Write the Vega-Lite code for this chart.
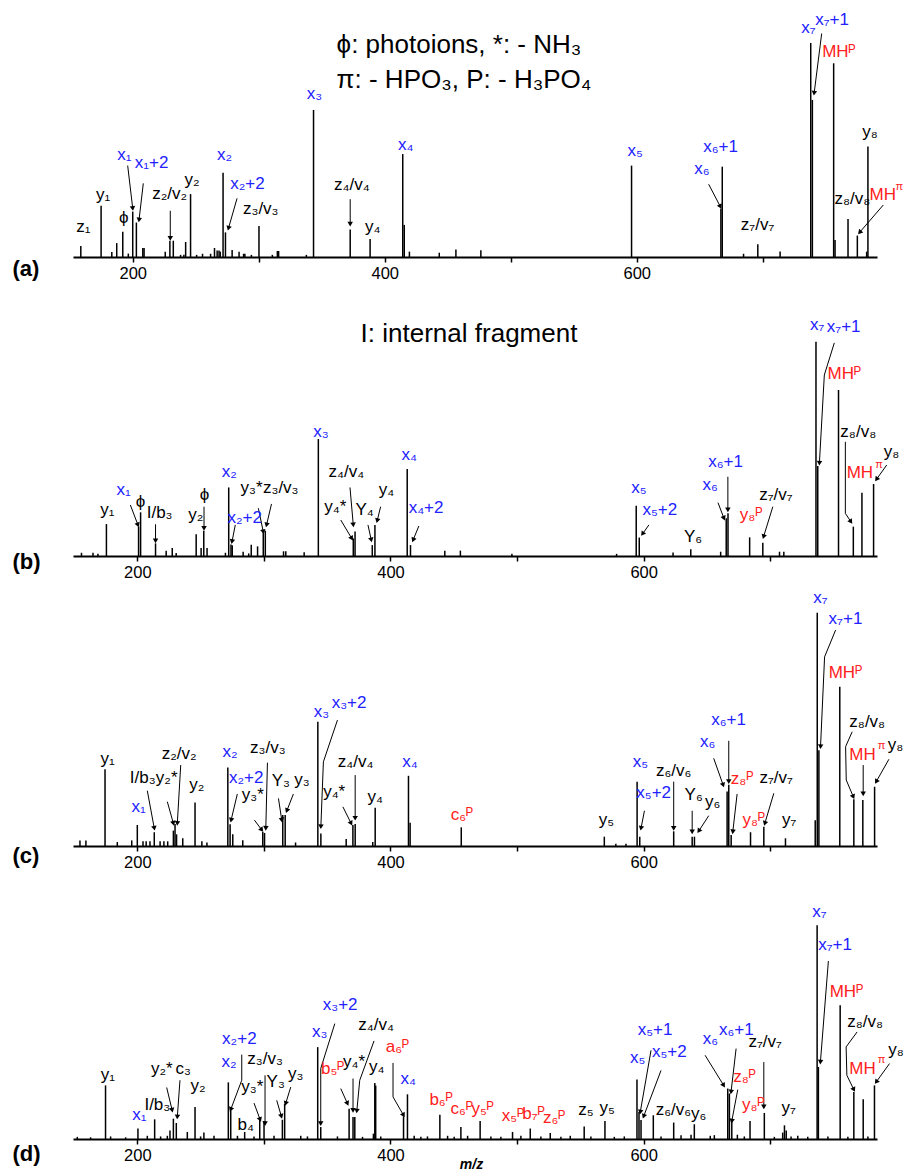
{
  "$schema": "https://vega.github.io/schema/vega-lite/v6.json",
  "background": "white",
  "padding": {"left": 12, "top": 7, "right": 0, "bottom": 0},
  "spacing": 40,
  "bounds": "flush",
  "config": {"view": {"stroke": null}, "font": "Liberation Sans"},
  "datasets": {
    "peaks": [
      {"p":"a","mz":158.8,"int":5.1},{"p":"a","mz":174.9,"int":24},{"p":"a","mz":183.4,"int":2.3},{"p":"a","mz":187.3,"int":6.5},{"p":"a","mz":192.1,"int":11.8},{"p":"a","mz":196.5,"int":1.6},{"p":"a","mz":200,"int":21.2},{"p":"a","mz":202.9,"int":16.1},{"p":"a","mz":208,"int":4.2},{"p":"a","mz":209,"int":4.2},{"p":"a","mz":225.8,"int":2.5},{"p":"a","mz":229.5,"int":7.6},{"p":"a","mz":232.2,"int":7.6},{"p":"a","mz":238,"int":1},{"p":"a","mz":240.6,"int":1},{"p":"a","mz":242,"int":7},{"p":"a","mz":245.9,"int":29.4},{"p":"a","mz":250.7,"int":1},{"p":"a","mz":255.4,"int":1.5},{"p":"a","mz":261.8,"int":1.5},{"p":"a","mz":264.9,"int":4.2},{"p":"a","mz":267,"int":3},{"p":"a","mz":268.5,"int":3},{"p":"a","mz":269.5,"int":2.5},{"p":"a","mz":271.7,"int":39.4},{"p":"a","mz":273.6,"int":11.5},{"p":"a","mz":278.9,"int":3.3},{"p":"a","mz":284.4,"int":2.5},{"p":"a","mz":288,"int":1.5},{"p":"a","mz":289,"int":1.5},{"p":"a","mz":294.2,"int":1},{"p":"a","mz":300.2,"int":14.5},{"p":"a","mz":310.8,"int":1},{"p":"a","mz":314.8,"int":2.8},{"p":"a","mz":315.8,"int":2.8},{"p":"a","mz":337.8,"int":1},{"p":"a","mz":343.5,"int":68.7},{"p":"a","mz":372.6,"int":12.9},{"p":"a","mz":388.4,"int":8.4},{"p":"a","mz":414.3,"int":48.1},{"p":"a","mz":415.5,"int":15},{"p":"a","mz":419.6,"int":2.5},{"p":"a","mz":443.3,"int":2},{"p":"a","mz":456.5,"int":3.5},{"p":"a","mz":476.3,"int":3.1},{"p":"a","mz":595.9,"int":42.7},{"p":"a","mz":666.8,"int":22.7},{"p":"a","mz":667.9,"int":42.2},{"p":"a","mz":684.8,"int":1.5},{"p":"a","mz":696.1,"int":5.9},{"p":"a","mz":713.8,"int":2.6},{"p":"a","mz":738.1,"int":100},{"p":"a","mz":739.4,"int":73.4},{"p":"a","mz":756.3,"int":90.5},{"p":"a","mz":757.4,"int":8},{"p":"a","mz":767.7,"int":17.8},{"p":"a","mz":775.1,"int":10},{"p":"a","mz":782.5,"int":2.5},{"p":"a","mz":783.5,"int":51.6},
      {"p":"b","mz":155.9,"int":1.5},{"p":"b","mz":165,"int":1.5},{"p":"b","mz":168.9,"int":1},{"p":"b","mz":175.6,"int":14.9},{"p":"b","mz":201,"int":13.7},{"p":"b","mz":202.6,"int":20.4},{"p":"b","mz":214.4,"int":5.9},{"p":"b","mz":222.8,"int":2.5},{"p":"b","mz":227.6,"int":3.7},{"p":"b","mz":230.7,"int":1.4},{"p":"b","mz":246.5,"int":10.1},{"p":"b","mz":250.4,"int":3.7},{"p":"b","mz":252.5,"int":11.8},{"p":"b","mz":255.1,"int":3.7},{"p":"b","mz":269.6,"int":1.5},{"p":"b","mz":272.2,"int":32},{"p":"b","mz":274,"int":5.4},{"p":"b","mz":275,"int":5},{"p":"b","mz":283.6,"int":2},{"p":"b","mz":288,"int":1.2},{"p":"b","mz":290,"int":5.3},{"p":"b","mz":295,"int":4.5},{"p":"b","mz":299.5,"int":11.8},{"p":"b","mz":301.1,"int":11.8},{"p":"b","mz":315.5,"int":2.2},{"p":"b","mz":317.3,"int":2.2},{"p":"b","mz":331.8,"int":1.7},{"p":"b","mz":343,"int":54.6},{"p":"b","mz":370.6,"int":8.2},{"p":"b","mz":372,"int":11.4},{"p":"b","mz":385.6,"int":5.1},{"p":"b","mz":387.7,"int":14.5},{"p":"b","mz":413.2,"int":40.6},{"p":"b","mz":415.8,"int":5.1},{"p":"b","mz":442.9,"int":2.5},{"p":"b","mz":455.2,"int":2.5},{"p":"b","mz":495.9,"int":1},{"p":"b","mz":578.6,"int":1},{"p":"b","mz":594.1,"int":23.5},{"p":"b","mz":596.5,"int":8.6},{"p":"b","mz":623.2,"int":1.6},{"p":"b","mz":637.2,"int":3.1},{"p":"b","mz":660.8,"int":2},{"p":"b","mz":665.2,"int":17.6},{"p":"b","mz":666.6,"int":19.9},{"p":"b","mz":683.7,"int":8.7},{"p":"b","mz":694.1,"int":6.2},{"p":"b","mz":707.3,"int":2},{"p":"b","mz":710.7,"int":2},{"p":"b","mz":736.1,"int":100},{"p":"b","mz":737.5,"int":42},{"p":"b","mz":753.9,"int":77.5},{"p":"b","mz":765.6,"int":13.7},{"p":"b","mz":772.4,"int":29.5},{"p":"b","mz":781.6,"int":33.6},
      {"p":"c","mz":154.7,"int":2.4},{"p":"c","mz":159.4,"int":2.4},{"p":"c","mz":174.5,"int":32.9},{"p":"c","mz":184.2,"int":1.7},{"p":"c","mz":195.6,"int":2.4},{"p":"c","mz":200,"int":9},{"p":"c","mz":204.5,"int":2},{"p":"c","mz":207,"int":2},{"p":"c","mz":210,"int":2},{"p":"c","mz":213.4,"int":5.9},{"p":"c","mz":218,"int":2},{"p":"c","mz":221,"int":2},{"p":"c","mz":224,"int":2},{"p":"c","mz":228.5,"int":6.6},{"p":"c","mz":229.8,"int":9.4},{"p":"c","mz":231,"int":5},{"p":"c","mz":235.9,"int":3.3},{"p":"c","mz":245.6,"int":18.7},{"p":"c","mz":251,"int":2},{"p":"c","mz":255,"int":1.5},{"p":"c","mz":271.5,"int":33.7},{"p":"c","mz":273.3,"int":9.3},{"p":"c","mz":275.4,"int":5},{"p":"c","mz":283.3,"int":2.5},{"p":"c","mz":299.1,"int":6.1},{"p":"c","mz":300.5,"int":5.6},{"p":"c","mz":314.9,"int":13.3},{"p":"c","mz":316.8,"int":13.3},{"p":"c","mz":325,"int":1.5},{"p":"c","mz":342.6,"int":53.3},{"p":"c","mz":345,"int":5.4},{"p":"c","mz":365,"int":3},{"p":"c","mz":370.3,"int":9},{"p":"c","mz":372.1,"int":9.4},{"p":"c","mz":386,"int":1.7},{"p":"c","mz":387.9,"int":16.4},{"p":"c","mz":414.2,"int":30.1},{"p":"c","mz":415.5,"int":10},{"p":"c","mz":455.9,"int":8},{"p":"c","mz":568.9,"int":4},{"p":"c","mz":578,"int":1},{"p":"c","mz":586,"int":1},{"p":"c","mz":594.8,"int":27.6},{"p":"c","mz":596.9,"int":4},{"p":"c","mz":623.7,"int":6.3},{"p":"c","mz":638.3,"int":4},{"p":"c","mz":640.1,"int":4},{"p":"c","mz":665.9,"int":23.4},{"p":"c","mz":667.2,"int":26.3},{"p":"c","mz":669.1,"int":4.7},{"p":"c","mz":684.4,"int":5.9},{"p":"c","mz":694.9,"int":8.3},{"p":"c","mz":712,"int":3.3},{"p":"c","mz":735.5,"int":11},{"p":"c","mz":737.1,"int":100},{"p":"c","mz":738.4,"int":41.1},{"p":"c","mz":754.9,"int":68.3},{"p":"c","mz":766,"int":20},{"p":"c","mz":773.1,"int":19.7},{"p":"c","mz":782.4,"int":25.4},
      {"p":"d","mz":152.6,"int":1},{"p":"d","mz":163.1,"int":0.8},{"p":"d","mz":174.9,"int":25.1},{"p":"d","mz":178.9,"int":1.2},{"p":"d","mz":190.8,"int":0.8},{"p":"d","mz":200.5,"int":4.9},{"p":"d","mz":207.9,"int":1.5},{"p":"d","mz":213.7,"int":9.2},{"p":"d","mz":218.4,"int":1.2},{"p":"d","mz":223.7,"int":1.5},{"p":"d","mz":225.8,"int":4},{"p":"d","mz":228.5,"int":9.5},{"p":"d","mz":230.8,"int":7.5},{"p":"d","mz":239.5,"int":3.3},{"p":"d","mz":245.6,"int":15},{"p":"d","mz":250,"int":1.2},{"p":"d","mz":252.6,"int":3},{"p":"d","mz":260.6,"int":1.5},{"p":"d","mz":271.9,"int":26.5},{"p":"d","mz":273.8,"int":13.4},{"p":"d","mz":279.1,"int":1.5},{"p":"d","mz":284.8,"int":3.3},{"p":"d","mz":292.2,"int":1.2},{"p":"d","mz":296.7,"int":9},{"p":"d","mz":300.1,"int":8.4},{"p":"d","mz":308,"int":1.5},{"p":"d","mz":314.6,"int":9},{"p":"d","mz":316.4,"int":16.5},{"p":"d","mz":329.1,"int":1.5},{"p":"d","mz":334.4,"int":1.2},{"p":"d","mz":342.5,"int":43},{"p":"d","mz":344.9,"int":5.6},{"p":"d","mz":358.1,"int":1.2},{"p":"d","mz":367.3,"int":14.2},{"p":"d","mz":370.4,"int":10.3},{"p":"d","mz":371.8,"int":10.3},{"p":"d","mz":377.9,"int":1},{"p":"d","mz":386.5,"int":2.5},{"p":"d","mz":387.6,"int":26.2},{"p":"d","mz":388.3,"int":25},{"p":"d","mz":392.3,"int":1.2},{"p":"d","mz":410.3,"int":10.6},{"p":"d","mz":413.4,"int":20.9},{"p":"d","mz":418.7,"int":1.5},{"p":"d","mz":424,"int":1},{"p":"d","mz":429.2,"int":1.2},{"p":"d","mz":439,"int":11.4},{"p":"d","mz":445.1,"int":1.5},{"p":"d","mz":450.3,"int":1},{"p":"d","mz":455.6,"int":5.6},{"p":"d","mz":460.9,"int":1.5},{"p":"d","mz":470.8,"int":8.4},{"p":"d","mz":479.3,"int":1.2},{"p":"d","mz":487.2,"int":1},{"p":"d","mz":496.4,"int":3.3},{"p":"d","mz":503,"int":1.5},{"p":"d","mz":510.4,"int":4.9},{"p":"d","mz":518.8,"int":1.2},{"p":"d","mz":526.2,"int":2.8},{"p":"d","mz":534.6,"int":1},{"p":"d","mz":542,"int":1.5},{"p":"d","mz":553,"int":5.9},{"p":"d","mz":558.3,"int":1.2},{"p":"d","mz":569.4,"int":8.4},{"p":"d","mz":576.8,"int":1},{"p":"d","mz":584.7,"int":1.2},{"p":"d","mz":594.7,"int":27.9},{"p":"d","mz":596.3,"int":12.6},{"p":"d","mz":597.9,"int":8.9},{"p":"d","mz":607.6,"int":11.1},{"p":"d","mz":613.7,"int":1.2},{"p":"d","mz":623.7,"int":7.7},{"p":"d","mz":629.5,"int":1.8},{"p":"d","mz":637.4,"int":2},{"p":"d","mz":640,"int":6.9},{"p":"d","mz":652.6,"int":1.5},{"p":"d","mz":655.8,"int":1.8},{"p":"d","mz":666.4,"int":23.6},{"p":"d","mz":667.7,"int":21.3},{"p":"d","mz":669.6,"int":9.1},{"p":"d","mz":674,"int":2},{"p":"d","mz":679.5,"int":1.2},{"p":"d","mz":684,"int":8.4},{"p":"d","mz":695.3,"int":12.2},{"p":"d","mz":703.2,"int":1},{"p":"d","mz":709.8,"int":3},{"p":"d","mz":711.2,"int":6.4},{"p":"d","mz":712.6,"int":4},{"p":"d","mz":716.4,"int":1.2},{"p":"d","mz":721.7,"int":1.5},{"p":"d","mz":729.6,"int":1},{"p":"d","mz":737,"int":100},{"p":"d","mz":738,"int":33.7},{"p":"d","mz":745.5,"int":1.2},{"p":"d","mz":755.2,"int":62.6},{"p":"d","mz":761.3,"int":1},{"p":"d","mz":766,"int":22},{"p":"d","mz":773.4,"int":18.6},{"p":"d","mz":777.1,"int":1.2},{"p":"d","mz":782.3,"int":25.1}
    ],
    "arrows": [
      {"p":"a","mz":196,"int":42.7,"mz2":200,"int2":22.7,"head":true},
      {"p":"a","mz":208.4,"int":34.4,"mz2":205,"int2":17.3,"head":true},
      {"p":"a","mz":229.8,"int":21.6,"mz2":229.8,"int2":8.7,"head":true},
      {"p":"a","mz":282.8,"int":27.4,"mz2":276,"int2":13.4,"head":true},
      {"p":"a","mz":372.6,"int":27,"mz2":372.6,"int2":15.4,"head":true},
      {"p":"a","mz":657.1,"int":34,"mz2":666.4,"int2":23.5,"head":true},
      {"p":"a","mz":746.8,"int":104.4,"mz2":740.8,"int2":76.5,"head":true},
      {"p":"a","mz":795.7,"int":24.3,"mz2":776.9,"int2":11.5,"head":true},
      {"p":"b","mz":194.5,"int":23.8,"mz2":200.5,"int2":14.5,"head":true},
      {"p":"b","mz":214.4,"int":14.8,"mz2":214.4,"int2":7.1,"head":true},
      {"p":"b","mz":252.7,"int":23,"mz2":252.7,"int2":12.9,"head":true},
      {"p":"b","mz":277.4,"int":14.5,"mz2":274.8,"int2":6.7,"head":true},
      {"p":"b","mz":295.6,"int":22.3,"mz2":299.5,"int2":11.3,"head":true},
      {"p":"b","mz":306,"int":24.3,"mz2":302.1,"int2":14.5,"head":true},
      {"p":"b","mz":360.7,"int":16.8,"mz2":369.4,"int2":8.2,"head":true},
      {"p":"b","mz":368,"int":32,"mz2":370.6,"int2":14.5,"head":true},
      {"p":"b","mz":382.2,"int":14.5,"mz2":384.8,"int2":7.5,"head":true},
      {"p":"b","mz":392.2,"int":23,"mz2":389.5,"int2":16.5,"head":true},
      {"p":"b","mz":422.4,"int":14,"mz2":417.9,"int2":7.5,"head":true},
      {"p":"b","mz":604.1,"int":14.5,"mz2":599.1,"int2":10.3,"head":true},
      {"p":"b","mz":658.7,"int":24.9,"mz2":663.4,"int2":17.6,"head":true},
      {"p":"b","mz":666.5,"int":37,"mz2":666.5,"int2":21.5,"head":true},
      {"p":"b","mz":702,"int":23,"mz2":694.7,"int2":9,"head":true},
      {"p":"b","mz":750.6,"int":99.5,"mz2":742.7,"int2":84.5,"head":false},
      {"p":"b","mz":742.7,"int":84.5,"mz2":738.8,"int2":43.3,"head":true},
      {"p":"b","mz":759.3,"int":53.3,"mz2":759.3,"int2":19.9,"head":false},
      {"p":"b","mz":759.3,"int":19.9,"mz2":763.7,"int2":16,"head":true},
      {"p":"b","mz":792,"int":42.5,"mz2":783.9,"int2":35.8,"head":true},
      {"p":"c","mz":207.9,"int":23.7,"mz2":213.4,"int2":7.6,"head":true},
      {"p":"c","mz":223.7,"int":19,"mz2":228.5,"int2":9.7,"head":true},
      {"p":"c","mz":234.3,"int":34.7,"mz2":231.6,"int2":9.7,"head":true},
      {"p":"c","mz":279,"int":22.3,"mz2":274.1,"int2":11.1,"head":true},
      {"p":"c","mz":302.8,"int":35.7,"mz2":301.5,"int2":7.6,"head":true},
      {"p":"c","mz":292.5,"int":11.1,"mz2":298.3,"int2":6.9,"head":true},
      {"p":"c","mz":311.5,"int":20.4,"mz2":314.1,"int2":11.1,"head":true},
      {"p":"c","mz":323.3,"int":22.3,"mz2":318.1,"int2":15.1,"head":true},
      {"p":"c","mz":358.1,"int":54,"mz2":347,"int2":36.1,"head":false},
      {"p":"c","mz":347,"int":36.1,"mz2":345,"int2":8.3,"head":true},
      {"p":"c","mz":372.1,"int":30.4,"mz2":372.1,"int2":11.9,"head":true},
      {"p":"c","mz":362.4,"int":16.8,"mz2":368.9,"int2":9.7,"head":true},
      {"p":"c","mz":600.6,"int":15.1,"mz2":597.9,"int2":7.6,"head":true},
      {"p":"c","mz":623.7,"int":27.6,"mz2":623.7,"int2":7.6,"head":true},
      {"p":"c","mz":638.3,"int":15.1,"mz2":638.3,"int2":6.1,"head":true},
      {"p":"c","mz":651.4,"int":13,"mz2":643.5,"int2":6.4,"head":true},
      {"p":"c","mz":655.3,"int":37.6,"mz2":662.8,"int2":26.1,"head":true},
      {"p":"c","mz":667.2,"int":45.1,"mz2":667.2,"int2":27.6,"head":true},
      {"p":"c","mz":673.8,"int":22.3,"mz2":670.4,"int2":6.1,"head":true},
      {"p":"c","mz":702.8,"int":22.6,"mz2":695.7,"int2":9.7,"head":true},
      {"p":"c","mz":751.6,"int":92.6,"mz2":742.9,"int2":81.1,"head":false},
      {"p":"c","mz":742.9,"int":81.1,"mz2":739.7,"int2":42.6,"head":true},
      {"p":"c","mz":764.7,"int":49,"mz2":759.5,"int2":42.6,"head":false},
      {"p":"c","mz":759.5,"int":42.6,"mz2":760,"int2":28.3,"head":false},
      {"p":"c","mz":760,"int":28.3,"mz2":765.6,"int2":21.1,"head":true},
      {"p":"c","mz":773.4,"int":34.7,"mz2":773.4,"int2":22.3,"head":true},
      {"p":"c","mz":793.7,"int":37.2,"mz2":783.7,"int2":27.6,"head":true},
      {"p":"d","mz":223.2,"int":24.1,"mz2":227.5,"int2":13.5,"head":true},
      {"p":"d","mz":233.7,"int":27.5,"mz2":231.6,"int2":10.3,"head":true},
      {"p":"d","mz":282.5,"int":39.5,"mz2":282.5,"int2":27.5,"head":false},
      {"p":"d","mz":282.5,"int":27.5,"mz2":273.8,"int2":13.8,"head":true},
      {"p":"d","mz":292.2,"int":16.8,"mz2":297,"int2":9.1,"head":true},
      {"p":"d","mz":300.9,"int":29.8,"mz2":300.9,"int2":7.2,"head":true},
      {"p":"d","mz":310.1,"int":18.1,"mz2":313.8,"int2":10.6,"head":true},
      {"p":"d","mz":321.2,"int":24.3,"mz2":317.2,"int2":16.6,"head":true},
      {"p":"d","mz":356,"int":54,"mz2":344.9,"int2":33,"head":false},
      {"p":"d","mz":344.9,"int":33,"mz2":344.9,"int2":7.2,"head":true},
      {"p":"d","mz":360.7,"int":23.6,"mz2":366,"int2":16.6,"head":true},
      {"p":"d","mz":370.4,"int":28.3,"mz2":370.4,"int2":13.4,"head":true},
      {"p":"d","mz":387,"int":45.9,"mz2":375.7,"int2":27.5,"head":false},
      {"p":"d","mz":375.7,"int":27.5,"mz2":373.4,"int2":13.1,"head":true},
      {"p":"d","mz":402,"int":35.6,"mz2":402,"int2":19.7,"head":false},
      {"p":"d","mz":402,"int":19.7,"mz2":410.3,"int2":11.1,"head":true},
      {"p":"d","mz":605.8,"int":41.5,"mz2":597.3,"int2":12.6,"head":true},
      {"p":"d","mz":613.7,"int":32.1,"mz2":600,"int2":10.6,"head":true},
      {"p":"d","mz":648.5,"int":39.2,"mz2":663.2,"int2":25.1,"head":true},
      {"p":"d","mz":673,"int":42.3,"mz2":669,"int2":22,"head":true},
      {"p":"d","mz":674.3,"int":23.1,"mz2":669.6,"int2":8.4,"head":true},
      {"p":"d","mz":694.9,"int":36,"mz2":694.9,"int2":15,"head":true},
      {"p":"d","mz":745.9,"int":83.3,"mz2":739.6,"int2":36,"head":true},
      {"p":"d","mz":768.6,"int":50.1,"mz2":759.9,"int2":43.1,"head":false},
      {"p":"d","mz":759.9,"int":43.1,"mz2":760.5,"int2":29.8,"head":false},
      {"p":"d","mz":760.5,"int":29.8,"mz2":766,"int2":23.1,"head":true},
      {"p":"d","mz":794.2,"int":35.3,"mz2":783.7,"int2":26.7,"head":true}
    ],
    "labels": [
      {"p":"a","mz":160.9,"int":11.8,"text":"z₁","kind":"n"},
      {"p":"a","mz":176.5,"int":26.6,"text":"y₁","kind":"n"},
      {"p":"a","mz":192.9,"int":16,"text":"ϕ","kind":"n"},
      {"p":"a","mz":193.4,"int":45.3,"text":"x₁","kind":"x"},
      {"p":"a","mz":215,"int":41.4,"text":"x₁+2","kind":"x"},
      {"p":"a","mz":229.3,"int":27,"text":"z₂/v₂","kind":"n"},
      {"p":"a","mz":247,"int":33.6,"text":"y₂","kind":"n"},
      {"p":"a","mz":272.8,"int":45.3,"text":"x₂","kind":"x"},
      {"p":"a","mz":291,"int":31.8,"text":"x₂+2","kind":"x"},
      {"p":"a","mz":301.6,"int":20,"text":"z₃/v₃","kind":"n"},
      {"p":"a","mz":344.3,"int":73.8,"text":"x₃","kind":"x"},
      {"p":"a","mz":373.9,"int":31.3,"text":"z₄/v₄","kind":"n"},
      {"p":"a","mz":390.5,"int":11.8,"text":"y₄","kind":"n"},
      {"p":"a","mz":416.6,"int":50,"text":"x₄","kind":"x"},
      {"p":"a","mz":598.7,"int":47.3,"text":"x₅","kind":"x"},
      {"p":"a","mz":651.8,"int":38.8,"text":"x₆","kind":"x"},
      {"p":"a","mz":666.6,"int":48.9,"text":"x₆+1","kind":"x"},
      {"p":"a","mz":695.9,"int":12.6,"text":"z₇/v₇","kind":"n"},
      {"p":"a","mz":736.3,"int":104.8,"text":"x₇","kind":"x"},
      {"p":"a","mz":755,"int":108.4,"text":"x₇+1","kind":"x"},
      {"p":"a","mz":760.5,"int":93.6,"text":"MHᴾ","kind":"P"},
      {"p":"a","mz":771.1,"int":24.8,"text":"z₈/v₈","kind":"n"},
      {"p":"a","mz":785.1,"int":55.9,"text":"y₈","kind":"n"},
      {"p":"a","mz":795.3,"int":26.6,"text":"MH","kind":"P"},
      {"p":"b","mz":176.4,"int":19.1,"text":"y₁","kind":"n"},
      {"p":"b","mz":189.2,"int":28.5,"text":"x₁","kind":"x"},
      {"p":"b","mz":202.6,"int":23,"text":"ϕ","kind":"n"},
      {"p":"b","mz":217.6,"int":17.6,"text":"I/b₃","kind":"n"},
      {"p":"b","mz":246.2,"int":16.8,"text":"y₂","kind":"n"},
      {"p":"b","mz":253,"int":26.1,"text":"ϕ","kind":"n"},
      {"p":"b","mz":272.7,"int":37,"text":"x₂","kind":"x"},
      {"p":"b","mz":284.8,"int":15.5,"text":"x₂+2","kind":"x"},
      {"p":"b","mz":290.3,"int":29.3,"text":"y₃*","kind":"n"},
      {"p":"b","mz":313.3,"int":29.3,"text":"z₃/v₃","kind":"n"},
      {"p":"b","mz":345,"int":55.7,"text":"x₃","kind":"x"},
      {"p":"b","mz":365.1,"int":37,"text":"z₄/v₄","kind":"n"},
      {"p":"b","mz":356.4,"int":20.7,"text":"y₄*","kind":"n"},
      {"p":"b","mz":379.6,"int":19.1,"text":"Y₄","kind":"n"},
      {"p":"b","mz":396.9,"int":28.5,"text":"y₄","kind":"n"},
      {"p":"b","mz":414.7,"int":44.8,"text":"x₄","kind":"x"},
      {"p":"b","mz":428.1,"int":19.9,"text":"x₄+2","kind":"x"},
      {"p":"b","mz":596.2,"int":29.3,"text":"x₅","kind":"x"},
      {"p":"b","mz":612.7,"int":19.1,"text":"x₅+2","kind":"x"},
      {"p":"b","mz":639,"int":6.7,"text":"Y₆","kind":"n"},
      {"p":"b","mz":652.6,"int":30.8,"text":"x₆","kind":"x"},
      {"p":"b","mz":664.7,"int":41.4,"text":"x₆+1","kind":"x"},
      {"p":"b","mz":684.9,"int":16.8,"text":"y₈ᴾ","kind":"P"},
      {"p":"b","mz":704.4,"int":26.1,"text":"z₇/v₇","kind":"n"},
      {"p":"b","mz":737,"int":105.5,"text":"x₇","kind":"x"},
      {"p":"b","mz":758,"int":104.7,"text":"x₇+1","kind":"x"},
      {"p":"b","mz":758.5,"int":82.4,"text":"MHᴾ","kind":"P"},
      {"p":"b","mz":769.5,"int":55.7,"text":"z₈/v₈","kind":"n"},
      {"p":"b","mz":770.8,"int":36.2,"text":"MH","kind":"P"},
      {"p":"b","mz":795.7,"int":46.3,"text":"y₈","kind":"n"},
      {"p":"c","mz":176.6,"int":35.1,"text":"y₁","kind":"n"},
      {"p":"c","mz":201.1,"int":14.7,"text":"x₁","kind":"x"},
      {"p":"c","mz":204.3,"int":26.9,"text":"I/b₃","kind":"n"},
      {"p":"c","mz":223.2,"int":26.9,"text":"y₂*","kind":"n"},
      {"p":"c","mz":233,"int":37.1,"text":"z₂/v₂","kind":"n"},
      {"p":"c","mz":247,"int":24,"text":"y₂","kind":"n"},
      {"p":"c","mz":273.3,"int":38.3,"text":"x₂","kind":"x"},
      {"p":"c","mz":286,"int":26.9,"text":"x₂+2","kind":"x"},
      {"p":"c","mz":303.1,"int":40,"text":"z₃/v₃","kind":"n"},
      {"p":"c","mz":291.2,"int":19.7,"text":"y₃*","kind":"n"},
      {"p":"c","mz":313.4,"int":25.7,"text":"Y₃","kind":"n"},
      {"p":"c","mz":330,"int":26.1,"text":"y₃","kind":"n"},
      {"p":"c","mz":345.5,"int":55.4,"text":"x₃","kind":"x"},
      {"p":"c","mz":367.3,"int":59,"text":"x₃+2","kind":"x"},
      {"p":"c","mz":372.4,"int":34,"text":"z₄/v₄","kind":"n"},
      {"p":"c","mz":355.5,"int":21.1,"text":"y₄*","kind":"n"},
      {"p":"c","mz":387.9,"int":19,"text":"y₄","kind":"n"},
      {"p":"c","mz":415.3,"int":34,"text":"x₄","kind":"x"},
      {"p":"c","mz":456.4,"int":11.1,"text":"c₆ᴾ","kind":"P"},
      {"p":"c","mz":570.5,"int":9,"text":"y₅","kind":"n"},
      {"p":"c","mz":597.4,"int":33.7,"text":"x₅","kind":"x"},
      {"p":"c","mz":607.9,"int":20.4,"text":"x₅+2","kind":"x"},
      {"p":"c","mz":623.7,"int":30,"text":"z₆/v₆","kind":"n"},
      {"p":"c","mz":639.5,"int":19.7,"text":"Y₆","kind":"n"},
      {"p":"c","mz":654.5,"int":16.6,"text":"y₆","kind":"n"},
      {"p":"c","mz":650.6,"int":42.6,"text":"x₆","kind":"x"},
      {"p":"c","mz":667,"int":51.9,"text":"x₆+1","kind":"x"},
      {"p":"c","mz":677.8,"int":26.6,"text":"z₈ᴾ","kind":"P"},
      {"p":"c","mz":687,"int":9,"text":"y₈ᴾ","kind":"P"},
      {"p":"c","mz":704.7,"int":26.9,"text":"z₇/v₇","kind":"n"},
      {"p":"c","mz":714.9,"int":9,"text":"y₇","kind":"n"},
      {"p":"c","mz":739.7,"int":104,"text":"x₇","kind":"x"},
      {"p":"c","mz":759.4,"int":95.4,"text":"x₇+1","kind":"x"},
      {"p":"c","mz":759.4,"int":71.9,"text":"MHᴾ","kind":"P"},
      {"p":"c","mz":776.6,"int":51.1,"text":"z₈/v₈","kind":"n"},
      {"p":"c","mz":772.8,"int":36.9,"text":"MH","kind":"P"},
      {"p":"c","mz":798.9,"int":41.1,"text":"y₈","kind":"n"},
      {"p":"d","mz":176.8,"int":27.8,"text":"y₁","kind":"n"},
      {"p":"d","mz":201.6,"int":9.1,"text":"x₁","kind":"x"},
      {"p":"d","mz":215.8,"int":13.4,"text":"I/b₃","kind":"n"},
      {"p":"d","mz":219.3,"int":30.6,"text":"y₂*","kind":"n"},
      {"p":"d","mz":236.3,"int":30.6,"text":"c₃","kind":"n"},
      {"p":"d","mz":247.9,"int":22.5,"text":"y₂","kind":"n"},
      {"p":"d","mz":272.4,"int":33.7,"text":"x₂","kind":"x"},
      {"p":"d","mz":280.6,"int":44.3,"text":"x₂+2","kind":"x"},
      {"p":"d","mz":285.6,"int":4.4,"text":"b₄","kind":"n"},
      {"p":"d","mz":290.9,"int":22,"text":"y₃*","kind":"n"},
      {"p":"d","mz":300.9,"int":35.3,"text":"z₃/v₃","kind":"n"},
      {"p":"d","mz":309.3,"int":24.3,"text":"Y₃","kind":"n"},
      {"p":"d","mz":325.1,"int":28.3,"text":"y₃","kind":"n"},
      {"p":"d","mz":344.1,"int":47.7,"text":"x₃","kind":"x"},
      {"p":"d","mz":360.2,"int":60.2,"text":"x₃+2","kind":"x"},
      {"p":"d","mz":354.3,"int":30.3,"text":"b₅ᴾ","kind":"P"},
      {"p":"d","mz":371.2,"int":33.7,"text":"y₄*","kind":"n"},
      {"p":"d","mz":388.6,"int":51.2,"text":"z₄/v₄","kind":"n"},
      {"p":"d","mz":389.2,"int":31.4,"text":"y₄","kind":"n"},
      {"p":"d","mz":405.5,"int":40.7,"text":"a₆ᴾ","kind":"P"},
      {"p":"d","mz":413.9,"int":25.9,"text":"x₄","kind":"x"},
      {"p":"d","mz":440,"int":15.8,"text":"b₆ᴾ","kind":"P"},
      {"p":"d","mz":456.3,"int":11.9,"text":"c₆ᴾ","kind":"P"},
      {"p":"d","mz":472.8,"int":11.9,"text":"y₅ᴾ","kind":"P"},
      {"p":"d","mz":496.8,"int":8.4,"text":"x₅ᴾ","kind":"P"},
      {"p":"d","mz":513,"int":9.5,"text":"b₇ᴾ","kind":"P"},
      {"p":"d","mz":529.3,"int":7.5,"text":"z₆ᴾ","kind":"P"},
      {"p":"d","mz":554.4,"int":11.1,"text":"z₅","kind":"n"},
      {"p":"d","mz":571.2,"int":12.2,"text":"y₅","kind":"n"},
      {"p":"d","mz":595.3,"int":35.6,"text":"x₅","kind":"x"},
      {"p":"d","mz":609,"int":48.5,"text":"x₅+1","kind":"x"},
      {"p":"d","mz":620.2,"int":38.4,"text":"x₅+2","kind":"x"},
      {"p":"d","mz":623.5,"int":11.1,"text":"z₆/v₆","kind":"n"},
      {"p":"d","mz":643.5,"int":9.5,"text":"y₆","kind":"n"},
      {"p":"d","mz":652.7,"int":44.6,"text":"x₆","kind":"x"},
      {"p":"d","mz":673.2,"int":48.5,"text":"x₆+1","kind":"x"},
      {"p":"d","mz":679.6,"int":26.7,"text":"z₈ᴾ","kind":"P"},
      {"p":"d","mz":686.6,"int":13.7,"text":"y₈ᴾ","kind":"P"},
      {"p":"d","mz":695.9,"int":43,"text":"z₇/v₇","kind":"n"},
      {"p":"d","mz":714.6,"int":12.2,"text":"y₇","kind":"n"},
      {"p":"d","mz":738.8,"int":103.9,"text":"x₇","kind":"x"},
      {"p":"d","mz":751.2,"int":88.3,"text":"x₇+1","kind":"x"},
      {"p":"d","mz":760.2,"int":66.4,"text":"MHᴾ","kind":"P"},
      {"p":"d","mz":775,"int":52.4,"text":"z₈/v₈","kind":"n"},
      {"p":"d","mz":772.8,"int":30.6,"text":"MH","kind":"P"},
      {"p":"d","mz":799.4,"int":39.2,"text":"y₈","kind":"n"}
    ],
    "sups": [
      {"p":"a","mz":808.3,"int":31.5,"text":"π"},
      {"p":"b","mz":786,"int":41,"text":"π"},
      {"p":"c","mz":787.8,"int":41.5,"text":"π"},
      {"p":"d","mz":787.8,"int":35.5,"text":"π"}
    ],
    "titles": [
      {"p":"a","mz":361.8,"int":95.3,"text":"ϕ: photoions, *: - NH₃"},
      {"p":"a","mz":361.8,"int":78.8,"text":"π: - HPO₃, P: - H₃PO₄"},
      {"p":"b","mz":376.4,"int":100,"text":"I: internal fragment"}
    ]
  },
  "vconcat": [
    {
      "width": 804, "height": 250,
      "encoding": {
        "x": {"field": "mz", "type": "quantitative", "scale": {"domain": [152.6, 790.7], "nice": false, "zero": false},
              "axis": {"values": [200,300,400,500,600,700], "labelExpr": "datum.value % 200 === 0 ? datum.label : ''", "tickSize": 5, "tickWidth": 1.5, "tickColor": "black", "domainColor": "black", "domainWidth": 2, "labelFontSize": 16.5, "labelFont": "Liberation Sans", "labelColor": "black", "labelPadding": 3, "grid": false, "title": null}},
        "y": {"field": "int", "type": "quantitative", "scale": {"domain": [0, 116.8], "nice": false},
              "axis": {"title": "(a)", "domain": false, "ticks": false, "labels": false, "grid": false, "titleAngle": 0, "titleX": -61, "titleY": 268, "titleAlign": "left", "titleBaseline": "alphabetic", "titleFontSize": 22, "titleFontWeight": "bold", "titleFont": "Liberation Sans", "titleColor": "black"}}
      },
      "layer": [
        {"data": {"name": "peaks"}, "transform": [{"filter": "datum.p === 'a'"}], "mark": {"type": "rule", "strokeWidth": 1.5, "color": "black"}, "encoding": {"y2": {"datum": 0}}},
        {"data": {"name": "arrows"}, "transform": [{"filter": "datum.p === 'a'"}], "mark": {"type": "rule", "strokeWidth": 1, "color": "black"}, "encoding": {"x2": {"field": "mz2"}, "y2": {"field": "int2"}}},
        {"data": {"name": "arrows"}, "transform": [{"filter": "datum.p === 'a' && datum.head"}, {"calculate": "atan2(-(datum.mz2 - datum.mz) * 1.26, (datum.int - datum.int2) * 2.14) * 180 / PI", "as": "ang"}, {"calculate": "datum.mz2", "as": "mz"}, {"calculate": "datum.int2", "as": "int"}], "mark": {"type": "point", "shape": "triangle-down", "filled": true, "size": 30, "color": "black", "opacity": 1}, "encoding": {"angle": {"field": "ang", "type": "quantitative", "scale": null}}},
        {"data": {"name": "labels"}, "transform": [{"filter": "datum.p === 'a'"}], "mark": {"type": "text", "fontSize": 17, "font": "Liberation Sans", "align": "center", "baseline": "alphabetic"}, "encoding": {"text": {"field": "text"}, "color": {"field": "kind", "type": "nominal", "scale": {"domain": ["n","x","P"], "range": ["#000000","#2222ff","#ff2020"]}, "legend": null}}},
        {"data": {"name": "sups"}, "transform": [{"filter": "datum.p === 'a'"}], "mark": {"type": "text", "fontSize": 11, "font": "Liberation Sans", "align": "center", "baseline": "alphabetic", "color": "#ff2020"}, "encoding": {"text": {"field": "text"}}},
        {"data": {"name": "titles"}, "transform": [{"filter": "datum.p === 'a'"}], "mark": {"type": "text", "fontSize": 26, "font": "Liberation Sans", "align": "left", "baseline": "alphabetic", "color": "black"}, "encoding": {"text": {"field": "text"}}}
      ]
    },
    {
      "width": 804, "height": 259,
      "encoding": {
        "x": {"field": "mz", "type": "quantitative", "scale": {"domain": [149.2, 784.3], "nice": false, "zero": false},
              "axis": {"values": [200,300,400,500,600,700], "labelExpr": "datum.value % 200 === 0 ? datum.label : ''", "tickSize": 5, "tickWidth": 1.5, "tickColor": "black", "domainColor": "black", "domainWidth": 2, "labelFontSize": 16.5, "labelFont": "Liberation Sans", "labelColor": "black", "labelPadding": 3, "grid": false, "title": null}},
        "y": {"field": "int", "type": "quantitative", "scale": {"domain": [0, 120.9], "nice": false},
              "axis": {"title": "(b)", "domain": false, "ticks": false, "labels": false, "grid": false, "titleAngle": 0, "titleX": -61, "titleY": 271, "titleAlign": "left", "titleBaseline": "alphabetic", "titleFontSize": 22, "titleFontWeight": "bold", "titleFont": "Liberation Sans", "titleColor": "black"}}
      },
      "layer": [
        {"data": {"name": "peaks"}, "transform": [{"filter": "datum.p === 'b'"}], "mark": {"type": "rule", "strokeWidth": 1.5, "color": "black"}, "encoding": {"y2": {"datum": 0}}},
        {"data": {"name": "arrows"}, "transform": [{"filter": "datum.p === 'b'"}], "mark": {"type": "rule", "strokeWidth": 1, "color": "black"}, "encoding": {"x2": {"field": "mz2"}, "y2": {"field": "int2"}}},
        {"data": {"name": "arrows"}, "transform": [{"filter": "datum.p === 'b' && datum.head"}, {"calculate": "atan2(-(datum.mz2 - datum.mz) * 1.266, (datum.int - datum.int2) * 2.142) * 180 / PI", "as": "ang"}, {"calculate": "datum.mz2", "as": "mz"}, {"calculate": "datum.int2", "as": "int"}], "mark": {"type": "point", "shape": "triangle-down", "filled": true, "size": 30, "color": "black", "opacity": 1}, "encoding": {"angle": {"field": "ang", "type": "quantitative", "scale": null}}},
        {"data": {"name": "labels"}, "transform": [{"filter": "datum.p === 'b'"}], "mark": {"type": "text", "fontSize": 17, "font": "Liberation Sans", "align": "center", "baseline": "alphabetic"}, "encoding": {"text": {"field": "text"}, "color": {"field": "kind", "type": "nominal", "scale": {"domain": ["n","x","P"], "range": ["#000000","#2222ff","#ff2020"]}, "legend": null}}},
        {"data": {"name": "sups"}, "transform": [{"filter": "datum.p === 'b'"}], "mark": {"type": "text", "fontSize": 11, "font": "Liberation Sans", "align": "center", "baseline": "alphabetic", "color": "#ff2020"}, "encoding": {"text": {"field": "text"}}},
        {"data": {"name": "titles"}, "transform": [{"filter": "datum.p === 'b'"}], "mark": {"type": "text", "fontSize": 26, "font": "Liberation Sans", "align": "left", "baseline": "alphabetic", "color": "black"}, "encoding": {"text": {"field": "text"}}}
      ]
    },
    {
      "width": 804, "height": 250,
      "encoding": {
        "x": {"field": "mz", "type": "quantitative", "scale": {"domain": [149.2, 784.3], "nice": false, "zero": false},
              "axis": {"values": [200,300,400,500,600,700], "labelExpr": "datum.value % 200 === 0 ? datum.label : ''", "tickSize": 5, "tickWidth": 1.5, "tickColor": "black", "domainColor": "black", "domainWidth": 2, "labelFontSize": 16.5, "labelFont": "Liberation Sans", "labelColor": "black", "labelPadding": 3, "grid": false, "title": null}},
        "y": {"field": "int", "type": "quantitative", "scale": {"domain": [0, 107.2], "nice": false},
              "axis": {"title": "(c)", "domain": false, "ticks": false, "labels": false, "grid": false, "titleAngle": 0, "titleX": -61, "titleY": 266, "titleAlign": "left", "titleBaseline": "alphabetic", "titleFontSize": 22, "titleFontWeight": "bold", "titleFont": "Liberation Sans", "titleColor": "black"}}
      },
      "layer": [
        {"data": {"name": "peaks"}, "transform": [{"filter": "datum.p === 'c'"}], "mark": {"type": "rule", "strokeWidth": 1.5, "color": "black"}, "encoding": {"y2": {"datum": 0}}},
        {"data": {"name": "arrows"}, "transform": [{"filter": "datum.p === 'c'"}], "mark": {"type": "rule", "strokeWidth": 1, "color": "black"}, "encoding": {"x2": {"field": "mz2"}, "y2": {"field": "int2"}}},
        {"data": {"name": "arrows"}, "transform": [{"filter": "datum.p === 'c' && datum.head"}, {"calculate": "atan2(-(datum.mz2 - datum.mz) * 1.266, (datum.int - datum.int2) * 2.333) * 180 / PI", "as": "ang"}, {"calculate": "datum.mz2", "as": "mz"}, {"calculate": "datum.int2", "as": "int"}], "mark": {"type": "point", "shape": "triangle-down", "filled": true, "size": 30, "color": "black", "opacity": 1}, "encoding": {"angle": {"field": "ang", "type": "quantitative", "scale": null}}},
        {"data": {"name": "labels"}, "transform": [{"filter": "datum.p === 'c'"}], "mark": {"type": "text", "fontSize": 17, "font": "Liberation Sans", "align": "center", "baseline": "alphabetic"}, "encoding": {"text": {"field": "text"}, "color": {"field": "kind", "type": "nominal", "scale": {"domain": ["n","x","P"], "range": ["#000000","#2222ff","#ff2020"]}, "legend": null}}},
        {"data": {"name": "sups"}, "transform": [{"filter": "datum.p === 'c'"}], "mark": {"type": "text", "fontSize": 11, "font": "Liberation Sans", "align": "center", "baseline": "alphabetic", "color": "#ff2020"}, "encoding": {"text": {"field": "text"}}}
      ]
    },
    {
      "width": 804, "height": 253,
      "encoding": {
        "x": {"field": "mz", "type": "quantitative", "scale": {"domain": [149.2, 784.3], "nice": false, "zero": false},
              "axis": {"values": [200,300,400,500,600,700], "labelExpr": "datum.value % 200 === 0 ? datum.label : ''", "tickSize": 5, "tickWidth": 1.5, "tickColor": "black", "domainColor": "black", "domainWidth": 2, "labelFontSize": 16.5, "labelFont": "Liberation Sans", "labelColor": "black", "labelPadding": 3, "grid": false, "title": "m/z", "titleFontStyle": "italic", "titleFontWeight": "bold", "titleFontSize": 14, "titleFont": "Liberation Sans", "titleColor": "black", "titleX": 398, "titleY": 29, "titleAlign": "center", "titleBaseline": "alphabetic"}},
        "y": {"field": "int", "type": "quantitative", "scale": {"domain": [0, 118.4], "nice": false},
              "axis": {"title": "(d)", "domain": false, "ticks": false, "labels": false, "grid": false, "titleAngle": 0, "titleX": -61, "titleY": 274, "titleAlign": "left", "titleBaseline": "alphabetic", "titleFontSize": 22, "titleFontWeight": "bold", "titleFont": "Liberation Sans", "titleColor": "black"}}
      },
      "layer": [
        {"data": {"name": "peaks"}, "transform": [{"filter": "datum.p === 'd'"}], "mark": {"type": "rule", "strokeWidth": 1.5, "color": "black"}, "encoding": {"y2": {"datum": 0}}},
        {"data": {"name": "arrows"}, "transform": [{"filter": "datum.p === 'd'"}], "mark": {"type": "rule", "strokeWidth": 1, "color": "black"}, "encoding": {"x2": {"field": "mz2"}, "y2": {"field": "int2"}}},
        {"data": {"name": "arrows"}, "transform": [{"filter": "datum.p === 'd' && datum.head"}, {"calculate": "atan2(-(datum.mz2 - datum.mz) * 1.266, (datum.int - datum.int2) * 2.137) * 180 / PI", "as": "ang"}, {"calculate": "datum.mz2", "as": "mz"}, {"calculate": "datum.int2", "as": "int"}], "mark": {"type": "point", "shape": "triangle-down", "filled": true, "size": 30, "color": "black", "opacity": 1}, "encoding": {"angle": {"field": "ang", "type": "quantitative", "scale": null}}},
        {"data": {"name": "labels"}, "transform": [{"filter": "datum.p === 'd'"}], "mark": {"type": "text", "fontSize": 17, "font": "Liberation Sans", "align": "center", "baseline": "alphabetic"}, "encoding": {"text": {"field": "text"}, "color": {"field": "kind", "type": "nominal", "scale": {"domain": ["n","x","P"], "range": ["#000000","#2222ff","#ff2020"]}, "legend": null}}},
        {"data": {"name": "sups"}, "transform": [{"filter": "datum.p === 'd'"}], "mark": {"type": "text", "fontSize": 11, "font": "Liberation Sans", "align": "center", "baseline": "alphabetic", "color": "#ff2020"}, "encoding": {"text": {"field": "text"}}}
      ]
    }
  ]
}
